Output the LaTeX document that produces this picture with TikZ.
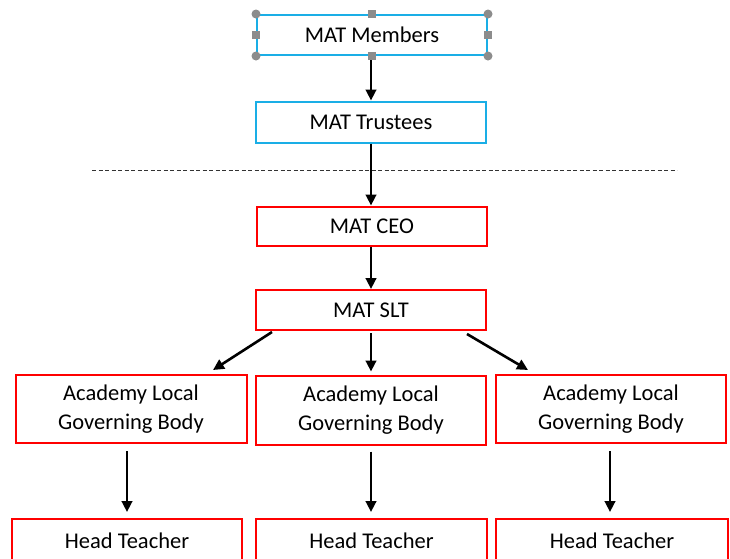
\documentclass[tikz,border=0pt]{standalone}
\usepackage{fontspec}
\setmainfont{Carlito}
\usetikzlibrary{arrows.meta}
\definecolor{mblue}{HTML}{1AAEE6}
\definecolor{mred}{HTML}{FF0000}
\definecolor{hgrey}{HTML}{8C8C8C}
\tikzset{
  box/.style={draw, line width=2pt, rectangle, inner sep=0pt, align=center,
    font=\fontsize{22.5}{28.5}\selectfont, text=black},
  bluebox/.style={box, draw=mblue, minimum width=230pt, minimum height=40pt},
  redbox/.style={box, draw=mred, minimum width=230pt, minimum height=40pt},
  tallbox/.style={redbox, minimum height=68pt},
  conn/.style={line width=2.6pt, -{Triangle[length=11pt,width=10.5pt]}},
  cornerhandle/.style={circle, fill=hgrey, inner sep=0pt, minimum size=9pt},
  midhandle/.style={rectangle, fill=hgrey, inner sep=0pt, minimum size=8pt}
}
\begin{document}
\begin{tikzpicture}[x=1pt,y=-1pt]
\useasboundingbox (0,0) rectangle (730,558);
\clip (0,0) rectangle (730,558);
\fill[white] (0,0) rectangle (730,558);

\node[bluebox] (mem) at (372,35) {MAT Members};
\node[bluebox, minimum height=41pt] (tru) at (371,122) {MAT Trustees};
\node[redbox, minimum height=39pt] (ceo) at (372,226) {MAT CEO};
\node[redbox] (slt) at (371,310) {MAT SLT};
\node[tallbox, minimum width=231pt] (a1) at (131,409) {Academy Local\\Governing Body};
\node[tallbox, minimum height=69pt] (a2) at (371,410) {Academy Local\\Governing Body};
\node[tallbox] (a3) at (611,409) {Academy Local\\Governing Body};
\node[redbox, minimum height=44pt] (h1) at (127,541) {Head Teacher};
\node[redbox, minimum height=44pt, minimum width=231pt] (h2) at (371.5,541) {Head Teacher};
\node[redbox, minimum height=44pt, minimum width=232pt] (h3) at (612,541) {Head Teacher};

% selection handles on MAT Members
\foreach \a in {north west,north east,south west,south east}
  \node[cornerhandle] at (mem.\a) {};
\foreach \a in {north,south,west,east}
  \node[midhandle] at (mem.\a) {};

% dashed separator
\coordinate (dl) at (92,170);
\coordinate (dr) at (677,170);
\draw[line width=1pt, dash pattern=on 4pt off 2.5pt, black!80] (dl) -- (dr);

% connectors
\coordinate (a3s) at ([xshift=-1pt,yshift=-7pt]a3.south);
\draw[conn] ([xshift=-1pt,yshift=-4pt]mem.south) -- (tru.north);
\draw[conn] (tru.south) -- (ceo.north -| tru.south);
\draw[conn] (ceo.south -| slt.north) -- (slt.north);
\draw[conn] ([xshift=-99pt,yshift=-1pt]slt.south) -- ([xshift=82pt,yshift=4pt]a1.north);
\draw[conn] ([yshift=-2pt]slt.south) -- ([yshift=3pt]a2.north);
\draw[conn] ([xshift=96pt,yshift=-3pt]slt.south) -- ([xshift=-83pt,yshift=4pt]a3.north);
\draw[conn] ([xshift=-4pt,yshift=-7pt]a1.south) -- ([yshift=6pt]h1.north);
\draw[conn] ([yshift=-6pt]a2.south) -- ([yshift=6pt]h2.north -| a2.south);
\draw[conn] (a3s) -- ([yshift=6pt]h3.north -| a3s);
\end{tikzpicture}
\end{document}
